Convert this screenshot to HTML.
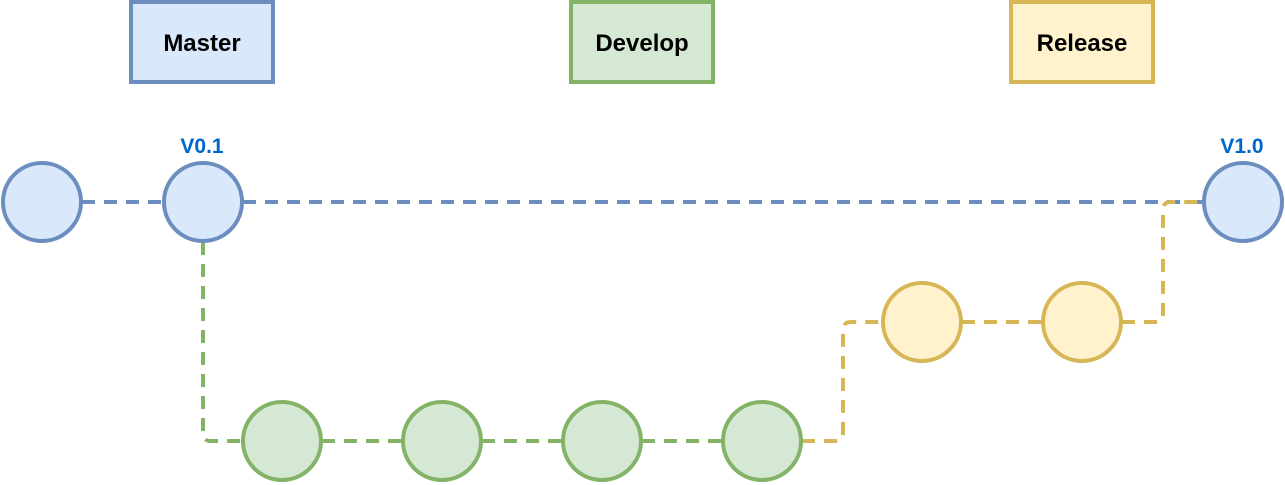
<!DOCTYPE html>
<html><head><meta charset="utf-8"><style>html,body{margin:0;padding:0;background:#fff}svg{display:block}</style></head>
<body>
<svg width="1285" height="485" xmlns="http://www.w3.org/2000/svg" font-family="Liberation Sans, Arial, sans-serif">
<g fill="none" stroke-width="4" stroke-dasharray="13 9">
<path d="M82 202 H163 M243 202 H1203" stroke="#6c8ebf"/>
<path d="M203 242 V433 Q203 441 211 441 H242 M322 441 H402 M482 441 H562 M642 441 H722" stroke="#82b366"/>
<path d="M802 441 H835 Q843 441 843 433 V330 Q843 322 851 322 H882 M962 322 H1042 M1122 322 H1155 Q1163 322 1163 314 V210 Q1163 202 1171 202 H1203" stroke="#d6b656"/>
</g>
<g stroke-width="4">
<rect x="131" y="2" width="142" height="80" fill="#dae8fc" stroke="#6c8ebf"/>
<rect x="571" y="2" width="142" height="80" fill="#d5e8d4" stroke="#82b366"/>
<rect x="1011" y="2" width="142" height="80" fill="#fff2cc" stroke="#d6b656"/>
<g fill="#dae8fc" stroke="#6c8ebf">
<circle cx="42" cy="202" r="39"/><circle cx="203" cy="202" r="39"/><circle cx="1243" cy="202" r="39"/>
</g>
<g fill="#d5e8d4" stroke="#82b366">
<circle cx="282" cy="441" r="39"/><circle cx="442" cy="441" r="39"/><circle cx="602" cy="441" r="39"/><circle cx="762" cy="441" r="39"/>
</g>
<g fill="#fff2cc" stroke="#d6b656">
<circle cx="922" cy="322" r="39"/><circle cx="1082" cy="322" r="39"/>
</g>
</g>
<g font-weight="bold" font-size="24" text-anchor="middle" fill="#000">
<text x="202" y="51">Master</text>
<text x="642" y="51">Develop</text>
<text x="1082" y="51">Release</text>
</g>
<g font-weight="bold" font-size="21" text-anchor="middle" fill="#0066cc">
<text x="202" y="153">V0.1</text>
<text x="1242" y="153">V1.0</text>
</g>
</svg>
</body></html>
